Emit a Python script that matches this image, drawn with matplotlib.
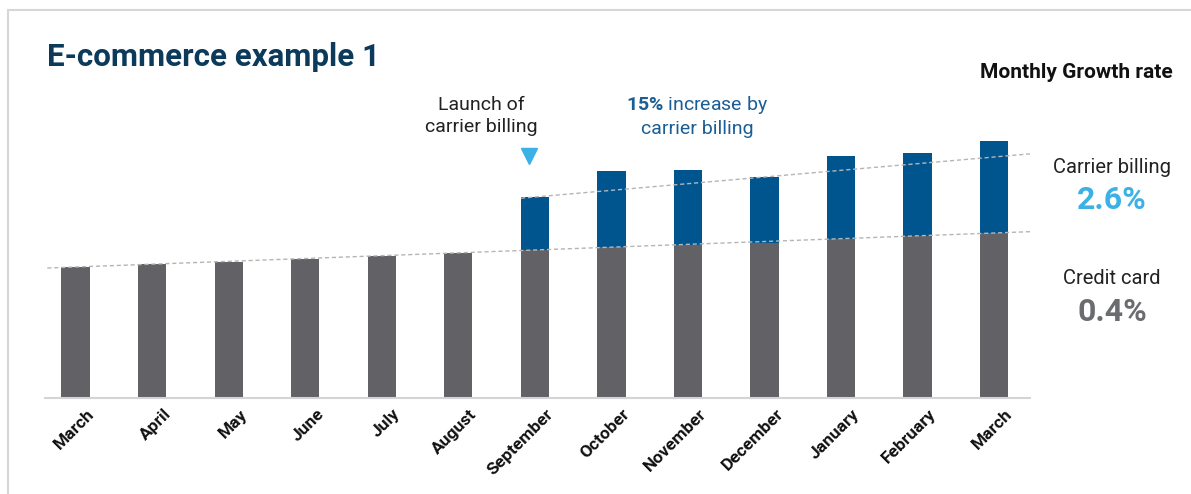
import numpy as np
import matplotlib.pyplot as plt
from matplotlib.patches import Rectangle
from matplotlib.transforms import ScaledTranslation

plt.rcParams['font.family'] = ['Roboto', 'DejaVu Sans']
plt.rcParams['mathtext.fontset'] = 'custom'
plt.rcParams['mathtext.rm'] = 'Roboto'
plt.rcParams['mathtext.bf'] = 'Roboto:bold'

months = ["March", "April", "May", "June", "July", "August", "September",
          "October", "November", "December", "January", "February", "March"]
credit_card = [131, 134, 136, 139, 142, 145, 148, 151, 153, 155, 159, 162, 165]
carrier_billing = [0, 0, 0, 0, 0, 0, 53, 76, 75, 66, 83, 83, 92]

# trend values read at first / last month of each series
card_trend_months = [0, 12]
card_trend_vals = [131, 165]
carrier_trend_months = [6, 12]
carrier_trend_vals = [201, 241]

gray = "#616166"
blue = "#00558f"
light_blue = "#3bb1e5"

W, H = 1191, 494
fig = plt.figure(figsize=(W / 100, H / 100), dpi=100)
ax = fig.add_axes([45 / W, 96 / H, 985 / W, 378 / H])

x = np.arange(len(months))
ax.bar(x, credit_card, width=0.37, color=gray, zorder=2)
ax.bar(x, carrier_billing, width=0.37, bottom=credit_card, color=blue, zorder=2)

# dashed trend lines
def trend(mx, vals, x0, x1):
    p = np.polyfit(mx, vals, 1)
    xs = np.array([x0, x1])
    return xs, np.polyval(p, xs)

xs, ys = trend(card_trend_months, card_trend_vals, -0.37, 12.47)
ax.plot(xs, ys, color="#b5b5b5", lw=1, ls=(0, (3, 2)), zorder=3)
xs, ys = trend(carrier_trend_months, carrier_trend_vals, 5.82, 12.47)
ax.plot(xs, ys, color="#b5b5b5", lw=1, ls=(0, (3, 2)), zorder=3)

ax.set_xlim(-0.4, 12.47)
ax.set_ylim(0, 378)
for s in ["top", "right", "left"]:
    ax.spines[s].set_visible(False)
ax.spines["bottom"].set_color("#d4d4d4")
ax.spines["bottom"].set_linewidth(1.5)
ax.set_yticks([])
ax.set_xticks(x)
ax.set_xticklabels(months, rotation=45, ha="right", rotation_mode="anchor",
                   fontsize=12.5, fontweight="bold", color="#111111")
ax.tick_params(axis="x", length=0, pad=6)
off = ScaledTranslation(11 / 100, 0, fig.dpi_scale_trans)
for lab in ax.get_xticklabels():
    lab.set_transform(lab.get_transform() + off)

# annotations
ax.text(5.3, 282, "Launch of\ncarrier billing", ha="center", va="center",
        fontsize=14, color="#222222", linespacing=1.25)
ax.plot([5.93], [242], marker="v", ms=11, color=light_blue, mec=light_blue,
        clip_on=False, zorder=4)
ax.text(8.12, 282, "$\\mathbf{15\\%}$ increase by\ncarrier billing", ha="center",
        va="center", fontsize=14, color="#1b5e96", linespacing=1.25)

# title and right panel
fig.text(47 / W, 1 - 57 / H, "E-commerce example 1", ha="left", va="center",
         fontsize=22.5, fontweight="bold", color="#0b3a5b")
fig.text(1076 / W, 1 - 72 / H, "Monthly Growth rate", ha="center", va="center",
         fontsize=15, fontweight="bold", color="#111111")
fig.text(1112 / W, 1 - 167 / H, "Carrier billing", ha="center", va="center",
         fontsize=14.5, color="#222222")
fig.text(1112 / W, 1 - 200 / H, "2.6%", ha="center", va="center",
         fontsize=23, fontweight="bold", color=light_blue)
fig.text(1112 / W, 1 - 279 / H, "Credit card", ha="center", va="center",
         fontsize=14.5, color="#222222")
fig.text(1112 / W, 1 - 312 / H, "0.4%", ha="center", va="center",
         fontsize=23, fontweight="bold", color="#6b6c70")

# card frame
fig.patches.append(Rectangle((8 / W, -0.1), 1.2, 1.1 - 10 / H, fill=False,
                             edgecolor="#d6d6d6", lw=1.5, transform=fig.transFigure))

fig.savefig("out.png", dpi=100)
